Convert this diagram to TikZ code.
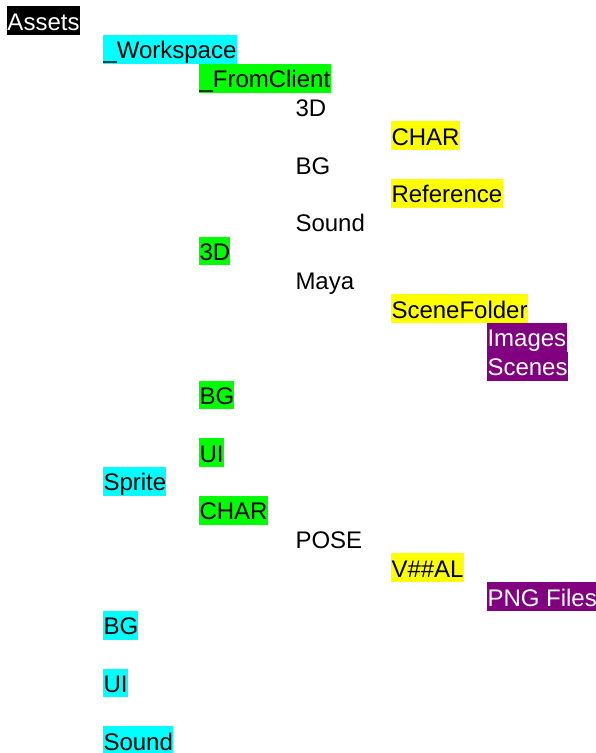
\documentclass[tikz,border=0pt]{standalone}
\usepackage{fontspec}
\setmainfont{Liberation Sans}
\definecolor{cyanbg}{RGB}{0,255,255}
\definecolor{greenbg}{RGB}{0,255,0}
\definecolor{yellowbg}{RGB}{255,255,0}
\definecolor{purplebg}{RGB}{128,0,128}
\tikzset{
  item/.style={anchor=north west, inner xsep=0.3pt, inner ysep=0pt, text height=23.8pt, text depth=5pt, font=\fontsize{24}{28.8}\selectfont},
  rootbox/.style={item, fill=black, text=white},
  lvla/.style={item, fill=cyanbg, text=black},
  lvlb/.style={item, fill=greenbg, text=black},
  plainitem/.style={item, text=black},
  lvld/.style={item, fill=yellowbg, text=black},
  lvle/.style={item, fill=purplebg, text=white}
}
\begin{document}
\begin{tikzpicture}[x=1pt,y=-1pt]
\useasboundingbox (0,0) rectangle (595,753);
\def\rh{28.8}
\node[rootbox]   (assets)      at (7,   6+0*\rh)  {Assets};
\node[lvla]      (workspace)   at (103, 6+1*\rh)  {\_Workspace};
\node[lvlb]      (fromclient)  at (199, 6+2*\rh)  {\_FromClient};
\node[plainitem] (fc3d)        at (295, 6+3*\rh)  {3D};
\node[lvld]      (fcchar)      at (391, 6+4*\rh)  {CHAR};
\node[plainitem] (fcbg)        at (295, 6+5*\rh)  {BG};
\node[lvld]      (fcref)       at (391, 6+6*\rh)  {Reference};
\node[plainitem] (fcsound)     at (295, 6+7*\rh)  {Sound};
\node[lvlb]      (ws3d)        at (199, 6+8*\rh)  {3D};
\node[plainitem] (maya)        at (295, 6+9*\rh)  {Maya};
\node[lvld]      (scenefolder) at (391, 6+10*\rh) {SceneFolder};
\node[lvle]      (images)      at (487, 6+11*\rh) {Images};
\node[lvle]      (scenes)      at (487, 6+12*\rh) {Scenes};
\node[lvlb]      (wsbg)        at (199, 6+13*\rh) {BG};
\node[lvlb]      (wsui)        at (199, 6+15*\rh) {UI};
\node[lvla]      (sprite)      at (103, 6+16*\rh) {Sprite};
\node[lvlb]      (spchar)      at (199, 6+17*\rh) {CHAR};
\node[plainitem] (pose)        at (295, 6+18*\rh) {POSE};
\node[lvld]      (vxxal)       at (391, 6+19*\rh) {V\#\#AL};
\node[lvle]      (png)         at (487, 6+20*\rh) {PNG Files};
\node[lvla]      (bg)          at (103, 6+21*\rh) {BG};
\node[lvla]      (ui)          at (103, 6+23*\rh) {UI};
\node[lvla]      (sound)       at (103, 6+25*\rh) {Sound};
\end{tikzpicture}
\end{document}
